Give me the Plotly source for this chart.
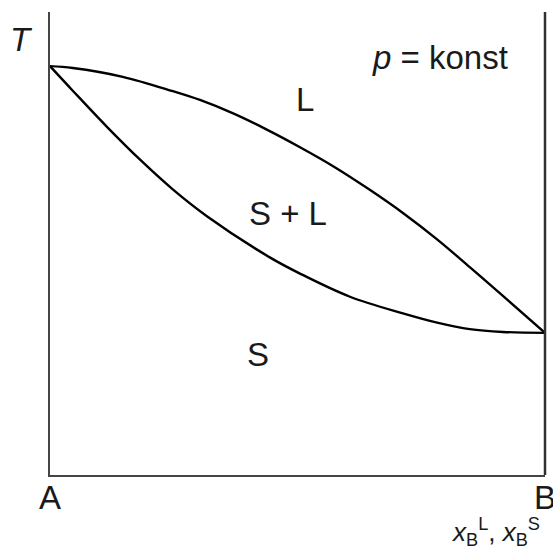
import plotly.graph_objects as go

# composition x_B (0 = A, 1 = B) and temperature (relative units)
liquidus_x = [0.0, 0.046, 0.147, 0.248, 0.303, 0.370, 0.438, 0.505, 0.572,
              0.646, 0.713, 0.782, 0.848, 0.915, 1.0]
liquidus_t = [0.883, 0.879, 0.860, 0.829, 0.810, 0.781, 0.746, 0.708, 0.667,
              0.616, 0.566, 0.509, 0.449, 0.387, 0.307]

solidus_x = [0.0, 0.046, 0.115, 0.182, 0.248, 0.317, 0.444, 0.505, 0.606,
             0.713, 0.782, 0.848, 0.915, 1.0]
solidus_t = [0.883, 0.830, 0.752, 0.681, 0.617, 0.559, 0.470, 0.435, 0.385,
             0.349, 0.329, 0.315, 0.309, 0.307]

region_labels = ["L", "S + L", "S"]
region_x = [0.515, 0.481, 0.420]
region_t = [0.81, 0.564, 0.261]

FONT = "Liberation Sans, Arial, sans-serif"
TXT = "#1a1a1a"
BIG = 33

fig = go.Figure()
for xs, ts, name in [(liquidus_x, liquidus_t, "liquidus"), (solidus_x, solidus_t, "solidus")]:
    fig.add_trace(
        go.Scatter(
            x=xs,
            y=ts,
            mode="lines",
            name=name,
            line=dict(color="black", width=2.4, shape="spline", smoothing=1.0),
            hoverinfo="skip",
        )
    )

for label, lx, lt in zip(region_labels, region_x, region_t):
    fig.add_annotation(x=lx, y=lt, text=label, showarrow=False,
                       xanchor="center", yanchor="middle",
                       font=dict(size=BIG, color=TXT, family=FONT))

# labels outside the plot area are placed in paper coordinates
outside = [
    (0.788, 0.901, "<i>p</i> = konst", BIG),
    (-0.057, 0.94, "<i>T</i>", BIG),
    (0.0, -0.048, "A", BIG),
    (1.0, -0.048, "B", BIG),
    (0.9, -0.123,
     "<i>x</i><sub>B</sub><sup>L</sup>, <i>x</i><sub>B</sub><sup>S</sup>", 26),
]
for ax, ay, txt, size in outside:
    fig.add_annotation(x=ax, y=ay, xref="paper", yref="paper", text=txt,
                       showarrow=False, xanchor="center", yanchor="middle",
                       font=dict(size=size, color=TXT, family=FONT))

# right-hand boundary (pure component B)
fig.add_shape(type="line", xref="paper", yref="paper", x0=1, x1=1, y0=0, y1=1,
              line=dict(color="#303030", width=2.5), layer="above")

fig.update_layout(
    width=553,
    height=554,
    margin=dict(l=50, r=8, t=12, b=79),
    plot_bgcolor="white",
    paper_bgcolor="white",
    showlegend=False,
    hovermode=False,
    xaxis=dict(range=[0, 1], showgrid=False, zeroline=False, showticklabels=False,
               ticks="", showline=True, linecolor="#454545", linewidth=2),
    yaxis=dict(range=[0, 1], showgrid=False, zeroline=False, showticklabels=False,
               ticks="", showline=True, linecolor="#454545", linewidth=2),
)

# drop the default page margin so the figure fills the window exactly
fig.write_html(
    "out.html",
    config={"displayModeBar": False},
    post_script="document.body.style.margin='0';document.body.style.overflow='hidden';",
)
